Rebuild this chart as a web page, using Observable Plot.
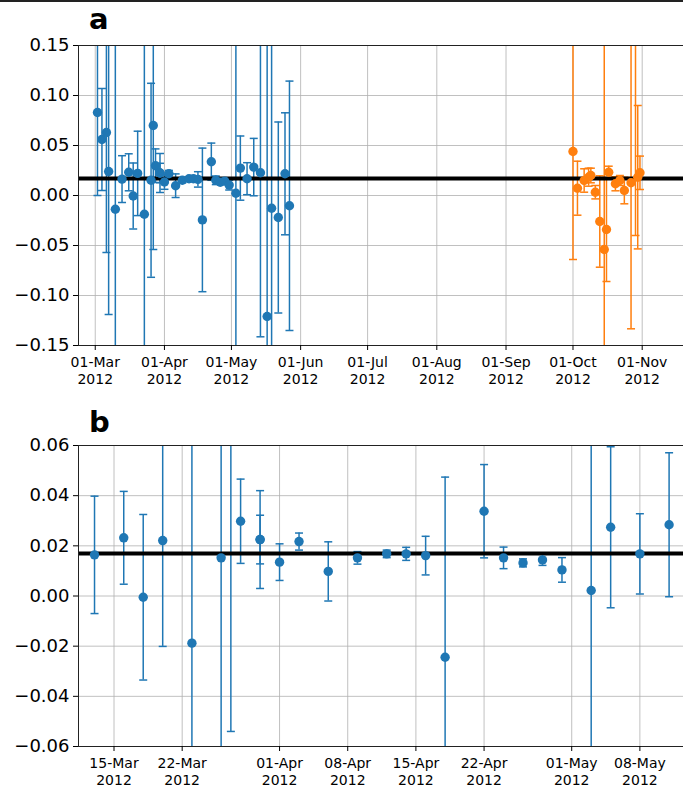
<!DOCTYPE html>
<html><head><meta charset="utf-8">
<script src="https://cdn.jsdelivr.net/npm/d3@7"></script>
<script src="https://cdn.jsdelivr.net/npm/@observablehq/plot@0.6"></script>
<style>
body{margin:0;background:#fff;font-family:"DejaVu Sans",sans-serif;}
#wrap{position:relative;width:683px;height:788px;overflow:hidden;}
#topline{position:absolute;left:0;top:0;width:683px;height:1.5px;background:#222;}
.ttl{position:absolute;font-weight:bold;font-size:29px;line-height:29px;left:89px;font-family:"DejaVu Sans",sans-serif;}
</style></head><body>
<div id="wrap">
<div id="topline"></div>
<div class="ttl" style="top:4.5px">a</div>
<div class="ttl" style="top:407.5px">b</div>
<div id="pa" style="position:absolute;left:0;top:40px"></div>
<div id="pb" style="position:absolute;left:0;top:440px"></div>
</div>
<script>
// ---- data ----
const blueDates = ["2012-03-02","2012-03-04","2012-03-06","2012-03-07","2012-03-10","2012-03-13","2012-03-16","2012-03-18","2012-03-20","2012-03-23","2012-03-26","2012-03-27","2012-03-28","2012-03-30","2012-03-30","2012-04-01","2012-04-03","2012-04-06","2012-04-09","2012-04-12","2012-04-14","2012-04-16","2012-04-18","2012-04-22","2012-04-24","2012-04-26","2012-04-28","2012-04-30","2012-05-03","2012-05-05","2012-05-08","2012-05-11","2012-05-14","2012-05-17","2012-05-19","2012-05-22","2012-05-25","2012-05-27"];
const blueValues = [0.083,0.056,0.063,0.024,-0.0137,0.0164,0.0232,-0.0005,0.0221,-0.0188,0.0152,0.070,0.0298,0.0225,0.0225,0.0135,0.0217,0.0098,0.0152,0.0168,0.0168,0.0161,-0.0244,0.0338,0.0152,0.0132,0.0144,0.0104,0.0022,0.0274,0.0168,0.0284,0.0227,-0.121,-0.0127,-0.022,0.0217,-0.0103];
const blueErrors = [0.083,0.051,0.120,0.143,0.20,0.0234,0.0185,0.033,0.0422,0.20,0.097,0.124,0.0168,0.0195,0.0097,0.0073,0.0034,0.0118,0.0025,0.0015,0.0026,0.0077,0.0718,0.0186,0.0043,0.0016,0.0022,0.0049,0.20,0.0321,0.016,0.0287,0.164,0.30,0.20,0.0955,0.061,0.1247];

const orangeDates = ["2012-10-01","2012-10-03","2012-10-06","2012-10-08","2012-10-09","2012-10-11","2012-10-13","2012-10-15","2012-10-16","2012-10-17","2012-10-20","2012-10-22","2012-10-24","2012-10-27","2012-10-29","2012-10-30","2012-10-31"];
const orangeValues = [0.044,0.0073,0.015,0.0183,0.020,0.0033,-0.026,-0.054,-0.034,0.0233,0.0117,0.015,0.005,0.0127,0.17,0.0183,0.0227];
const orangeErrors = [0.108,0.027,0.0117,0.009,0.0073,0.0067,0.0457,0.25,0.052,0.006,0.007,0.005,0.0133,0.146,0.21,0.0717,0.0167];

const refLevel = 0.0169;

const ticksA = ["2012-03-01","2012-04-01","2012-05-01","2012-06-01","2012-07-01","2012-08-01","2012-09-01","2012-10-01","2012-11-01"];
const ticksB = ["2012-03-15","2012-03-22","2012-04-01","2012-04-08","2012-04-15","2012-04-22","2012-05-01","2012-05-08"];
const yTicksA = [-0.15,-0.10,-0.05,0,0.05,0.10,0.15];
const yTicksB = [-0.06,-0.04,-0.02,0,0.02,0.04,0.06];

const domainA = ["2012-02-22T12:00Z","2012-11-19T12:00Z"];
const domainB = ["2012-03-11T08:30Z","2012-05-12T11:30Z"];

// ---- build ----
const blueColor = "#1f77b4", orangeColor = "#ff7f0e";
const mk = (ds, vs, es) => ds.map((d,i)=>({date:new Date(d), v:vs[i], e:es[i]}));
const blue = mk(blueDates, blueValues, blueErrors);
const orange = mk(orangeDates, orangeValues, orangeErrors);
const capSymbol = {draw(ctx, size){const r=Math.sqrt(size/Math.PI); ctx.moveTo(-r,0); ctx.lineTo(r,0);}};
const fmtX = d3.utcFormat("%d-%b\n%Y");
const fmtY = d3.format(".2f");

function seriesMarks(data, color){
  return [
    Plot.ruleX(data, {x:"date", y1:d=>d.v-d.e, y2:d=>d.v+d.e, stroke:color, strokeWidth:1.5, clip:true}),
    Plot.dot(data, {x:"date", y:d=>d.v-d.e, symbol:capSymbol, r:4, fill:"none", stroke:color, strokeWidth:1.5, clip:true}),
    Plot.dot(data, {x:"date", y:d=>d.v+d.e, symbol:capSymbol, r:4, fill:"none", stroke:color, strokeWidth:1.5, clip:true})
  ];
}

function panel(opts){
  const xd = opts.xDomain.map(d=>new Date(d));
  const xt = opts.xTicks.map(d=>new Date(d));
  return Plot.plot({
    width:683, height:opts.height, marginLeft:78, marginRight:0, marginTop:5, marginBottom:opts.marginBottom,
    x:{type:"utc", domain:xd},
    y:{domain:opts.yDomain},
    style:{fontFamily:"DejaVu Sans, sans-serif", background:"white", color:"black", overflow:"visible"},
    marks:[
      Plot.gridX(xt, {stroke:"#b0b0b0", strokeOpacity:1, strokeWidth:0.8}),
      Plot.gridY(opts.yTicks, {stroke:"#b0b0b0", strokeOpacity:1, strokeWidth:0.8}),
      ...opts.series.flatMap(s=>seriesMarks(s.data, s.color)),
      Plot.ruleY([refLevel], {stroke:"black", strokeWidth:4}),
      ...opts.series.map(s=>Plot.dot(s.data, {x:"date", y:"v", r:4.7, fill:s.color, clip:true})),
      Plot.ruleY(opts.yDomain, {stroke:"#222", strokeWidth:1}),
      Plot.ruleX([xd[0]], {stroke:"#222", strokeWidth:1}),
      Plot.axisX(xt, {tickFormat:fmtX, fontSize:14, tickSize:5, tickPadding:4, lineHeight:1.25, label:null}),
      Plot.axisY(opts.yTicks, {tickFormat:fmtY, fontSize:18, tickSize:5, tickPadding:4, label:null})
    ]
  });
}

document.getElementById("pa").append(panel({
  height:355, marginBottom:50, xDomain:domainA, xTicks:ticksA, yDomain:[-0.15,0.15], yTicks:yTicksA,
  series:[{data:blue, color:blueColor},{data:orange, color:orangeColor}]
}));
document.getElementById("pb").append(panel({
  height:348, marginBottom:42, xDomain:domainB, xTicks:ticksB, yDomain:[-0.06,0.06], yTicks:yTicksB,
  series:[{data:blue, color:blueColor}]
}));
</script>
</body></html>
